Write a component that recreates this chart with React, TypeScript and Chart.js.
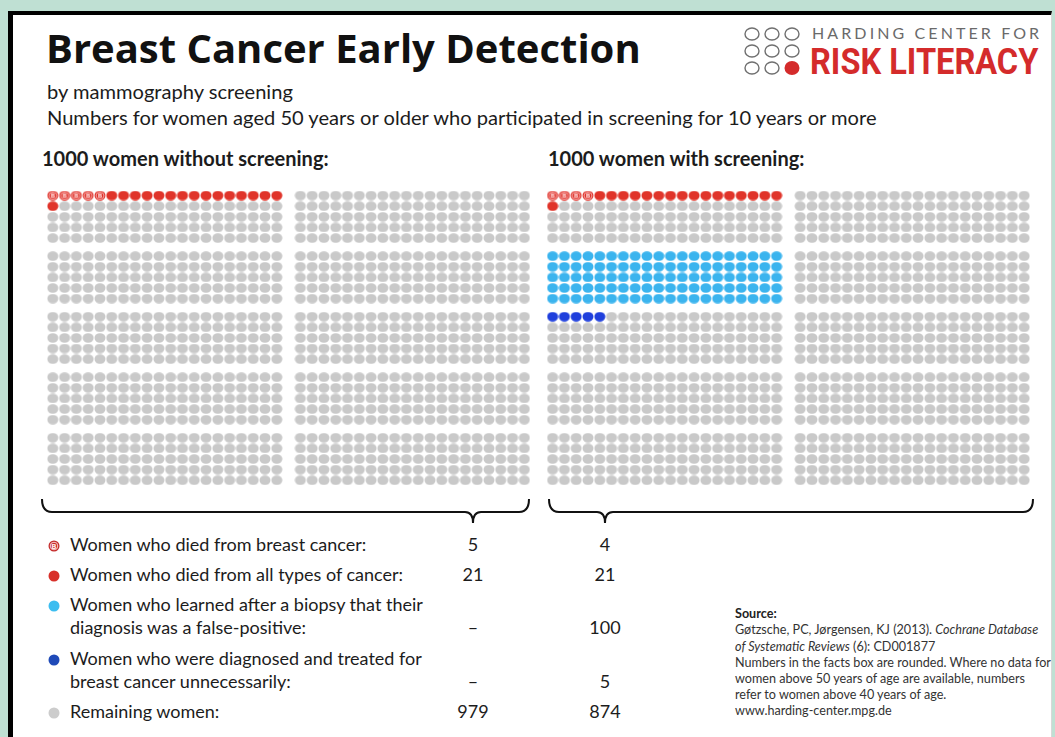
import React, { useEffect, useRef } from "react";
import { Chart, registerables } from "chart.js";
Chart.register(...registerables);

// ---------- DATA ----------
const categories = [
  "Women who died from breast cancer:",
  "Women who died from all types of cancer:",
  "Women who learned after a biopsy that their|diagnosis was a false-positive:",
  "Women who were diagnosed and treated for|breast cancer unnecessarily:",
  "Remaining women:",
];
// dots drawn per icon array (breast-cancer deaths are part of all cancer deaths)
const dotsWithout = [5, 16, 0, 0, 979];
const dotsWith = [4, 17, 100, 5, 874];
// numbers shown in the facts table
const tableWithout = ["5", "21", "–", "–", "979"];
const tableWith = ["4", "21", "100", "5", "874"];
const panelTitles = ["1000 women without screening:", "1000 women with screening:"];
const startsNewBlock = [false, false, true, true, false];

// ---------- STYLE ----------
const dotColors = ["#de3028", "#e0342a", "#3bb4ee", "#1f3fdc", "#c9c9c9"];
const legendColors = ["#c42a2a", "#d8302a", "#3cbdf0", "#1f4ab8", "#cccccc"];
const FONT = "Lato, 'Open Sans', sans-serif";

function makeDot(color: string, withB: boolean): HTMLCanvasElement {
  const c = document.createElement("canvas");
  c.width = 12;
  c.height = 10;
  const g = c.getContext("2d")!;
  g.fillStyle = color;
  g.beginPath();
  g.ellipse(6, 5, 5.5, 4.8, 0, 0, Math.PI * 2);
  g.fill();
  if (withB) {
    g.strokeStyle = "rgba(255,215,215,0.9)";
    g.lineWidth = 0.8;
    g.beginPath();
    g.ellipse(6, 5, 4.0, 3.5, 0, 0, Math.PI * 2);
    g.stroke();
    g.fillStyle = "rgba(255,225,225,0.95)";
    g.font = "bold 6px 'DejaVu Sans', sans-serif";
    g.textAlign = "center";
    g.textBaseline = "middle";
    g.fillText("B", 6, 5.3);
  }
  return c;
}

function slotToXY(i: number, offset: number) {
  const block = Math.floor(i / 100);
  const bc = Math.floor(block / 5);
  const br = block % 5;
  const j = i % 100;
  const row = Math.floor(j / 20);
  const col = j % 20;
  return { x: offset + bc * 21 + col, y: br * 5.7 + row };
}

function layout(counts: number[], offset: number) {
  const taken = new Array(1000).fill(false);
  const res: { x: number; y: number }[][] = counts.map(() => []);
  let ptr = 0;
  const last = counts.length - 1;
  counts.forEach((n, ci) => {
    if (ci === last) return;
    if (startsNewBlock[ci] && n > 0) ptr = Math.ceil(ptr / 100) * 100;
    for (let k = 0; k < n; k++) {
      taken[ptr] = true;
      res[ci].push(slotToXY(ptr, offset));
      ptr++;
    }
  });
  for (let i = 0; i < 1000 && res[last].length < counts[last]; i++) {
    if (!taken[i]) res[last].push(slotToXY(i, offset));
  }
  return res;
}

function DotsChart() {
  const ref = useRef<HTMLCanvasElement>(null);
  useEffect(() => {
    const styles = dotColors.map((c, i) => makeDot(c, i === 0));
    const datasets: any[] = [];
    [dotsWithout, dotsWith].forEach((counts, p) => {
      const pts = layout(counts, p === 0 ? 0 : 42.4);
      pts.forEach((d, ci) => {
        if (!d.length) return;
        datasets.push({
          label: categories[ci],
          data: d,
          pointStyle: styles[ci],
          pointRadius: 5,
          pointHoverRadius: 5,
          backgroundColor: dotColors[ci],
          borderWidth: 0,
        });
      });
    });
    const chart = new Chart(ref.current!, {
      type: "scatter",
      data: { datasets },
      options: {
        animation: false,
        responsive: false,
        events: [],
        layout: { padding: 0 },
        plugins: { legend: { display: false }, tooltip: { enabled: false } },
        scales: {
          x: { type: "linear", min: -1, max: 84, display: false },
          y: { type: "linear", min: -1, max: 28, reverse: true, display: false },
        },
      },
    });
    return () => chart.destroy();
  }, []);
  return (
    <canvas
      ref={ref}
      width={1012}
      height={318}
      style={{ position: "absolute", left: 36, top: 180, width: 1012, height: 318 }}
    />
  );
}

function T(props: {
  x: number;
  base: number;
  fs: number;
  bold?: boolean;
  color?: string;
  align?: "left" | "center";
  children: any;
  family?: string;
  ls?: number;
  sx?: number;
  asc?: number;
}) {
  const { x, base, fs, bold, color, align, children, family, ls, sx, asc } = props;
  const style: any = {
    position: "absolute",
    top: base - (asc ?? 0.987) * fs,
    fontSize: fs,
    lineHeight: 1.2,
    fontFamily: family || FONT,
    fontWeight: bold ? 700 : 400,
    color: color || "#1c1c1c",
    whiteSpace: "nowrap",
    letterSpacing: ls ? ls : undefined,
  };
  if (sx) {
    style.transform = `scaleX(${sx})`;
    style.transformOrigin = "left top";
  }
  if (align === "center") {
    style.left = x - 100;
    style.width = 200;
    style.textAlign = "center";
  } else style.left = x;
  return <div style={style}>{children}</div>;
}

export default function App() {
  const legendRows = [
    { dot: 546, lines: [552], val: 552 },
    { dot: 576, lines: [582], val: 582 },
    { dot: 606, lines: [612, 635], val: 635 },
    { dot: 660, lines: [666, 689], val: 689 },
    { dot: 713, lines: [719], val: 719 },
  ];
  const srcBase = [634, 651, 667, 683, 699, 715];
  return (
    <div
      style={{
        position: "fixed",
        left: 0,
        top: 0,
        width: 1055,
        height: 737,
        background: "#bfe0d3",
        overflow: "hidden",
      }}
    >
      <div
        style={{
          position: "absolute",
          left: 8,
          top: 11,
          width: 1044,
          height: 740,
          background: "#ffffff",
          borderTop: "4px solid #000",
          borderLeft: "5px solid #000",
          borderRight: "1px solid #d8d8d8",
          boxSizing: "border-box",
        }}
      />
      <T x={46} base={67} fs={40} bold color="#111" family="'Open Sans', Lato, sans-serif" asc={1.069}>
        Breast Cancer Early Detection
      </T>
      <T x={47} base={99} fs={20.1}>
        by mammography screening
      </T>
      <T x={47} base={125} fs={20.1}>
        Numbers for women aged 50 years or older who participated in screening for 10 years or more
      </T>
      <T x={42} base={166} fs={20} bold>
        {panelTitles[0]}
      </T>
      <T x={548} base={166} fs={20} bold>
        {panelTitles[1]}
      </T>

      {/* logo + braces + legend markers */}
      <svg style={{ position: "absolute", left: 0, top: 0 }} width={1055} height={737}>
        {[0, 1, 2].map((r) =>
          [0, 1, 2].map((c) =>
            r === 2 && c === 2 ? (
              <ellipse key={r + "-" + c} cx={752 + c * 20} cy={34 + r * 17} rx={7.5} ry={7} fill="#d42b2b" />
            ) : (
              <ellipse
                key={r + "-" + c}
                cx={752 + c * 20}
                cy={34 + r * 17}
                rx={7}
                ry={6}
                fill="none"
                stroke="#6f6f6f"
                strokeWidth={1.4}
              />
            )
          )
        )}
        <path
          d="M42 499 Q42 512 52 512 L465 512 Q473 512 473 523 Q473 512 481 512 L519 512 Q529 512 529 499"
          fill="none"
          stroke="#111"
          strokeWidth={2}
        />
        <path
          d="M549 499 Q549 512 559 512 L597 512 Q605 512 605 523 Q605 512 613 512 L1023 512 Q1033 512 1033 499"
          fill="none"
          stroke="#111"
          strokeWidth={2}
        />
        {legendRows.map((r, i) => (
          <g key={i}>
            <circle cx={54} cy={r.dot} r={5.5} fill={legendColors[i]} />
            {i === 0 && (
              <>
                <circle cx={54} cy={r.dot} r={3.8} fill="none" stroke="#ffdede" strokeWidth={0.9} />
                <text x={54} y={r.dot + 2.6} fontSize={7} fontWeight={700} textAnchor="middle" fill="#ffe6e6" fontFamily="DejaVu Sans">
                  B
                </text>
              </>
            )}
          </g>
        ))}
      </svg>
      <T x={812} base={39} fs={16} color="#6a6a6a" ls={3.1}>
        HARDING CENTER FOR
      </T>
      <T x={810} base={74} fs={37} bold color="#d42b2b" family="Roboto, sans-serif" asc={0.928} sx={0.88}>
        RISK LITERACY
      </T>

      <DotsChart />

      {legendRows.map((r, i) => {
        const lines = categories[i].split("|");
        return (
          <React.Fragment key={i}>
            {lines.map((l, k) => (
              <T key={k} x={70} base={r.lines[k]} fs={18}>
                {l}
              </T>
            ))}
            <T x={473} base={r.val} fs={18} align="center">
              {tableWithout[i]}
            </T>
            <T x={605} base={r.val} fs={18} align="center">
              {tableWith[i]}
            </T>
          </React.Fragment>
        );
      })}

      <T x={735} base={618} fs={12.6} bold color="#222">
        Source:
      </T>
      <T x={735} base={srcBase[0]} fs={12.6} color="#333">
        Gøtzsche, PC, Jørgensen, KJ (2013). <i>Cochrane Database</i>
      </T>
      <T x={735} base={srcBase[1]} fs={12.6} color="#333">
        <i>of Systematic Reviews</i> (6): CD001877
      </T>
      <T x={735} base={srcBase[2]} fs={12.6} color="#333">
        Numbers in the facts box are rounded. Where no data for
      </T>
      <T x={735} base={srcBase[3]} fs={12.6} color="#333">
        women above 50 years of age are available, numbers
      </T>
      <T x={735} base={srcBase[4]} fs={12.6} color="#333">
        refer to women above 40 years of age.
      </T>
      <T x={735} base={srcBase[5]} fs={12.6} color="#333">
        www.harding-center.mpg.de
      </T>
    </div>
  );
}
